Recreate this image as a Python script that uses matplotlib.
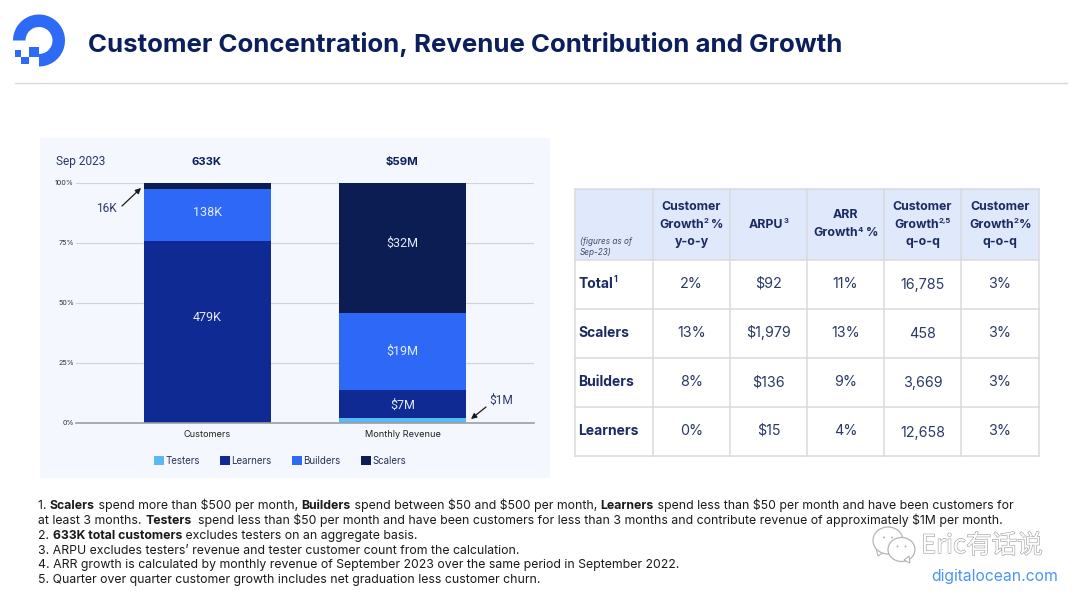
import matplotlib
matplotlib.use("Agg")
import matplotlib.pyplot as plt
from matplotlib.patches import Rectangle, Wedge, Ellipse, Polygon
import matplotlib.patheffects as pe

plt.rcParams['font.family'] = ['Inter', 'DejaVu Sans']
plt.rcParams['text.parse_math'] = False

W, H = 1080, 594

columns = ["Customers", "Monthly Revenue"]
segments = ["Testers", "Learners", "Builders", "Scalers"]
customers_k = [0, 479, 138, 16]
revenue_m = [1, 7, 19, 32]
customers_total = "633K"
revenue_total = "$59M"
y_ticks = [0, 25, 50, 75, 100]
seg_colors = ["#5AB8F5", "#0F2A92", "#2D69F6", "#0B1D52"]

table_head = [
    [[("Customer", "b")], [("Growth", "b"), ("2", "s"), (" %", "b")], [("y-o-y", "b")]],
    [[("ARPU", "b"), ("3", "s")]],
    [[("ARR", "b")], [("Growth", "b"), ("4", "s"), (" %", "b")]],
    [[("Customer", "b")], [("Growth", "b"), ("2,5", "s")], [("q-o-q", "b")]],
    [[("Customer", "b")], [("Growth", "b"), ("2", "s"), ("%", "b")], [("q-o-q", "b")]],
]
row_names = ["Total", "Scalers", "Builders", "Learners"]
yoy_growth = ["2%", "13%", "8%", "0%"]
arpu = ["$92", "$1,979", "$136", "$15"]
arr_growth = ["11%", "13%", "9%", "4%"]
qoq_count = ["16,785", "458", "3,669", "12,658"]
qoq_growth = ["3%", "3%", "3%", "3%"]

footnotes = [
    [("1. ", "n"), ("Scalers", "b"), (" spend more than $500 per month, ", "n"), ("Builders", "b"),
     (" spend between $50 and $500 per month, ", "n"), ("Learners", "b"),
     (" spend less than $50 per month and have been customers for", "n")],
    [("at least 3 months. ", "n"), ("Testers", "b"),
     ("  spend less than $50 per month and have been customers for less than 3 months and contribute revenue of approximately $1M per month.", "n")],
    [("2. ", "n"), ("633K total customers", "b"), (" excludes testers on an aggregate basis.", "n")],
    [("3. ARPU excludes testers\u2019 revenue and tester customer count from the calculation.", "n")],
    [("4. ARR growth is calculated by monthly revenue of September 2023 over the same period in September 2022.", "n")],
    [("5. Quarter over quarter customer growth includes net graduation less customer churn.", "n")],
]

NAVY = "#0B1F5C"
SLATE = "#2A3A68"

fig = plt.figure(figsize=(W / 100, H / 100), dpi=100, facecolor="white")
page = fig.add_axes([0, 0, 1, 1], zorder=0)
page.set_xlim(0, W)
page.set_ylim(H, 0)
page.axis("off")
renderer = fig.canvas.get_renderer()


def advance(s, size, weight, style):
    # width with spaces counted, the bar keeps trailing blanks from being dropped
    a = page.text(0, 0, s + "|", fontsize=size, fontweight=weight, fontstyle=style)
    b = page.text(0, 0, "|", fontsize=size, fontweight=weight, fontstyle=style)
    w = a.get_window_extent(renderer).width - b.get_window_extent(renderer).width
    a.remove()
    b.remove()
    return w


def rich_line(x, y, parts, size, color, align="left"):
    # parts are (text, kind): n normal, b bold, s superscript
    widths = []
    for s, kind in parts:
        fs = size * 0.62 if kind == "s" else size
        widths.append(advance(s, fs, "bold" if kind == "b" else "normal", "normal"))
    if align == "center":
        x = x - sum(widths) / 2
    for (s, kind), w in zip(parts, widths):
        fs = size * 0.62 if kind == "s" else size
        yy = y - size * 0.55 if kind == "s" else y
        page.text(x, yy, s, fontsize=fs, color=color, va="baseline", ha="left",
                  fontweight="bold" if kind in ("b", "s") else "normal")
        x += w


# logo
page.add_patch(Wedge((39, 40.5), 26, 180, 450, width=12.5, color="#2D6BF6", lw=0))
page.add_patch(Rectangle((29, 47), 10, 10, color="#2D6BF6", lw=0))
page.add_patch(Rectangle((21, 57), 8, 7, color="#2D6BF6", lw=0))
page.add_patch(Rectangle((15, 50), 6, 7, color="#2D6BF6", lw=0))

page.text(88, 44.5, "Customer Concentration, Revenue Contribution and Growth",
          fontsize=18.6, fontweight="bold", color=NAVY, va="center", ha="left")
page.plot([15, 1067], [82.5, 82.5], color="#D9D9D9", lw=1)

# chart panel
page.add_patch(Rectangle((40, 138), 510, 340, color="#F4F7FD", lw=0))
page.text(56, 161.5, "Sep 2023", fontsize=8.6, color=SLATE, va="center", family="Roboto")
page.text(207, 162, customers_total, fontsize=8.2, color=NAVY, fontweight="bold", va="center", ha="center")
page.text(402, 162, revenue_total, fontsize=8.2, color=NAVY, fontweight="bold", va="center", ha="center")

ax = fig.add_axes([76 / W, 1 - 422.5 / H, 458 / W, 240 / H], zorder=1)
ax.patch.set_alpha(0)
ax.set_xlim(-0.674, 1.674)
ax.set_ylim(0, 100)
for side in ["top", "right", "left"]:
    ax.spines[side].set_visible(False)
ax.spines["bottom"].set_color("#9A9EA6")
ax.spines["bottom"].set_linewidth(1.2)
ax.set_yticks(y_ticks)
ax.set_yticklabels([f"{t}%" for t in y_ticks], fontsize=5.2, color="#333333")
ax.set_xticks([0, 1])
ax.set_xticklabels(columns, fontsize=6.6, color="#222222")
ax.tick_params(length=0)
ax.tick_params(axis="y", pad=1.5)
ax.tick_params(axis="x", pad=5.5)
ax.grid(axis="y", color="#CFD3DC", lw=0.8)
ax.set_axisbelow(True)

# segment labels are not quite centred in their slices, nudged in points
label_nudge = {"479K": 10.3, "138K": 1.5, "$32M": 3, "$19M": 0, "$7M": -0.5}
for i, (vals, fmt) in enumerate([(customers_k, "{}K"), (revenue_m, "${}M")]):
    total = sum(vals)
    bottom = 0
    for v, c in zip(vals, seg_colors):
        pct = v / total * 100
        ax.bar(i, pct, 0.651, bottom=bottom, color=c, lw=0)
        # the thin slices are labelled outside the bar with an arrow
        if pct > 3.5:
            label = fmt.format(v)
            ax.annotate(label, (i, bottom + pct / 2), xytext=(0, label_nudge[label]),
                        textcoords="offset points", color="#E6ECFA", fontsize=9,
                        family="Roboto", ha="center", va="center")
        bottom += pct

arrow = dict(arrowstyle="-|>", color="#1A1A1A", lw=0.9, mutation_scale=8, shrinkA=0, shrinkB=0)
page.text(106, 209, f"{customers_k[3]}K", fontsize=8.6, color=SLATE, ha="center", va="center", family="Roboto")
page.annotate("", xy=(141, 188), xytext=(122, 206), arrowprops=arrow)
page.text(501, 400, f"${revenue_m[0]}M", fontsize=8.6, color=SLATE, ha="center", va="center", family="Roboto")
page.annotate("", xy=(471, 419), xytext=(486, 407), arrowprops=arrow)

handles = [Rectangle((0, 0), 1, 1, color=c, lw=0) for c in seg_colors]
fig.legend(handles, segments, loc="center", bbox_to_anchor=(280 / W, 1 - 461 / H), ncols=4,
           frameon=False, fontsize=7, labelcolor="#2A3350", handlelength=1.0, handleheight=1.0,
           handletextpad=0.15, columnspacing=2.1)

# table
col_x = [575, 653, 730, 807, 884, 961, 1039]
row_y = [189, 260, 308.5, 358, 407, 456]
page.add_patch(Rectangle((col_x[0], row_y[0]), col_x[-1] - col_x[0], row_y[1] - row_y[0],
                         color="#E0E8FB", lw=0))
for x in col_x:
    page.plot([x, x], [row_y[0], row_y[-1]], color="#DADADD", lw=1.1, solid_capstyle="projecting")
for y in row_y:
    page.plot([col_x[0], col_x[-1]], [y, y], color="#DADADD", lw=1.1, solid_capstyle="projecting")

page.text(580, 244.5, "(figures as of", fontsize=5.9, fontstyle="italic", color="#444B66", va="baseline")
page.text(580, 255, "Sep-23)", fontsize=5.9, fontstyle="italic", color="#444B66", va="baseline")
for j, lines in enumerate(table_head, start=1):
    cx = (col_x[j] + col_x[j + 1]) / 2
    cy = (row_y[0] + row_y[1]) / 2
    top = cy - (len(lines) - 1) * 18 / 2 + 3
    for k, parts in enumerate(lines):
        rich_line(cx, top + k * 18, parts, 8.9, "#1B2A63", align="center")

columns_body = [yoy_growth, arpu, arr_growth, qoq_count, qoq_growth]
for r, name in enumerate(row_names):
    base = (row_y[r + 1] + row_y[r + 2]) / 2 + 3.5
    parts = [(name, "b")] + ([("1", "s")] if name == "Total" else [])
    rich_line(578.5, base, parts, 10, "#1B2A63")
    for j, col in enumerate(columns_body):
        cx = (col_x[j + 1] + col_x[j + 2]) / 2
        # the customer count column sits slightly lower than its neighbours
        page.text(cx, base + (1.5 if j == 3 else 0), col[r], fontsize=10.3, color=SLATE,
                  ha="center", va="baseline")

# footnotes
foot_y = [509, 524, 539, 553.5, 568, 583]
for y, parts in zip(foot_y, footnotes):
    rich_line(38, y, parts, 8.84, "#1A1A1A")

# watermark with the chat bubbles
ghost = [pe.withStroke(linewidth=0.8, foreground="#9A9A9A")]
page.text(921, 546, "Eric有话说", fontsize=18.4, color="white", va="center",
          family=["Noto Sans CJK SC", "DejaVu Sans"], path_effects=ghost)
page.add_patch(Polygon([[876, 548], [878, 556], [886, 551]], fc="white", ec="#B5B5B5", lw=0.8))
for cx, cy, rx, ry in [(888, 540.5, 15, 13.5), (901.5, 549.5, 13.5, 12)]:
    page.add_patch(Ellipse((cx, cy), rx * 2, ry * 2, fc="white", ec="#B5B5B5", lw=0.9))
    page.add_patch(Ellipse((cx - 4, cy - 3), 2, 2, fc="#B5B5B5", lw=0))
    page.add_patch(Ellipse((cx + 4, cy - 3), 2, 2, fc="#B5B5B5", lw=0))
page.add_patch(Polygon([[904, 560], [910, 563], [909, 556]], fc="white", ec="#B5B5B5", lw=0.8))

page.text(931, 577, "digitalocean.com", fontsize=11.3, color="#4C94F7", va="center")

fig.savefig("out.png", dpi=100)
